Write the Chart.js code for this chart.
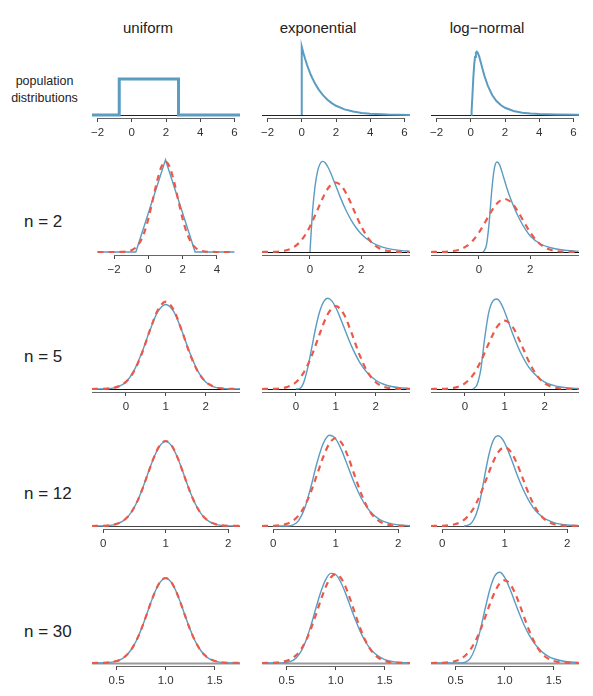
<!DOCTYPE html>
<html>
<head>
<meta charset="utf-8">
<script src="https://cdn.jsdelivr.net/npm/chart.js@4.4.1/dist/chart.umd.min.js"></script>
<style>
  body { margin: 0; background: #fff; }
  #page { position: relative; width: 593px; height: 696px; overflow: hidden;
          font-family: 'Liberation Sans', Arial, Helvetica, sans-serif; color: #222; }
  #page canvas { position: absolute; }
  .title { position: absolute; font-size: 15px; line-height: 15px; transform: translateX(-50%); white-space: nowrap; }
  .pop { position: absolute; left: 0; width: 89px; top: 73px; text-align: center; font-size: 12.5px; line-height: 17px; }
  .nlab { position: absolute; left: 24px; font-size: 17px; line-height: 17px; white-space: nowrap; }
</style>
</head>
<body>
<div id="page">
  <div class="title" style="left:148px; top:20px">uniform</div>
  <div class="title" style="left:318px; top:20px">exponential</div>
  <div class="title" style="left:487px; top:20px">log&#8722;normal</div>
  <div class="pop">population<br>distributions</div>
  <div class="nlab" style="top:213px">n = 2</div>
  <div class="nlab" style="top:348px">n = 5</div>
  <div class="nlab" style="top:485px">n = 12</div>
  <div class="nlab" style="top:623px">n = 30</div>
</div>
<script>
// ---- tick values / labels ----
const popTicks = [-2, 0, 2, 4, 6];
const popTickLabels = ['\u22122', '0', '2', '4', '6'];
const n2UniTicks = [-2, 0, 2, 4];
const n2UniTickLabels = ['\u22122', '0', '2', '4'];
const n2Ticks = [0, 2];
const n2TickLabels = ['0', '2'];
const n5Ticks = [0, 1, 2];
const n5TickLabels = ['0', '1', '2'];
const n12Ticks = [0, 1, 2];
const n12TickLabels = ['0', '1', '2'];
const n30Ticks = [0.5, 1.0, 1.5];
const n30TickLabels = ['0.5', '1.0', '1.5'];

// ---- population distributions ----
const uniPopX = [-2.32, -0.73, -0.73, 2.73, 2.73, 6.32];
const uniPopY = [0, 0, 0.289, 0.289, 0, 0];
const expPopX = [0, 0, 0.1, 0.2, 0.3, 0.4, 0.5, 0.6, 0.8, 1.0, 1.25, 1.5, 1.75, 2.0, 2.5, 3.0, 3.5, 4.0, 5.0, 6.32];
const expPopY = [0, 1, 0.905, 0.819, 0.741, 0.670, 0.607, 0.549, 0.449, 0.368, 0.287, 0.223, 0.174, 0.135, 0.082, 0.050, 0.030, 0.018, 0.0067, 0.0018];
const logPopX = [0, 0.02, 0.05, 0.1, 0.15, 0.2, 0.25, 0.3, 0.35, 0.4, 0.5, 0.6, 0.7, 0.8, 1.0, 1.25, 1.5, 1.75, 2.0, 2.5, 3.0, 3.5, 4.0, 5.0, 6.32];
const logPopY = [0, 0.0025, 0.061, 0.303, 0.564, 0.758, 0.879, 0.940, 0.958, 0.948, 0.879, 0.783, 0.684, 0.592, 0.439, 0.303, 0.212, 0.151, 0.110, 0.061, 0.035, 0.022, 0.0137, 0.0061, 0.0024];

// ---- n = 2 ----
const n2UniBlueX = [-2.97, -0.73, 1, 2.73, 5.03];
const n2UniBlueY = [0, 0, 0.577, 0, 0];
const n2UniRedX = [-2.97, -2, -1.5, -1, -0.75, -0.5, -0.25, 0, 0.25, 0.5, 0.75, 1, 1.25, 1.5, 1.75, 2, 2.25, 2.5, 2.75, 3, 3.5, 4, 5.03];
const n2UniRedY = [0, 0.0001, 0.0011, 0.0103, 0.0264, 0.0595, 0.1183, 0.2076, 0.3215, 0.4394, 0.5300, 0.5642, 0.5300, 0.4394, 0.3215, 0.2076, 0.1183, 0.0595, 0.0264, 0.0103, 0.0011, 0.0001, 0];
const n2RedX = [-1.87, -1.5, -1, -0.75, -0.5, -0.25, 0, 0.25, 0.5, 0.75, 1, 1.25, 1.5, 1.75, 2, 2.25, 2.5, 2.75, 3, 3.5, 3.88];
const n2RedY = [0.0002, 0.0011, 0.0103, 0.0264, 0.0595, 0.1183, 0.2076, 0.3215, 0.4394, 0.5300, 0.5642, 0.5300, 0.4394, 0.3215, 0.2076, 0.1183, 0.0595, 0.0264, 0.0103, 0.0011, 0.0001];
const n2ExpBlueX = [0, 0.1, 0.2, 0.3, 0.4, 0.5, 0.6, 0.7, 0.8, 1.0, 1.2, 1.4, 1.6, 1.8, 2.0, 2.4, 2.8, 3.2, 3.6, 3.88];
const n2ExpBlueY = [0, 0.3275, 0.5363, 0.6586, 0.7189, 0.7358, 0.7229, 0.6905, 0.6461, 0.5413, 0.4355, 0.3405, 0.2609, 0.1967, 0.1465, 0.0790, 0.0414, 0.0213, 0.0108, 0.0066];
const n2LogBlueX = [0.15, 0.2, 0.3, 0.4, 0.5, 0.6, 0.7, 0.8, 0.9, 1.0, 1.1, 1.2, 1.4, 1.6, 1.8, 2.0, 2.4, 2.8, 3.2, 3.6, 3.88];
const n2LogBlueY = [0, 0.011, 0.085, 0.32, 0.66, 0.89, 0.958, 0.93, 0.85, 0.76, 0.67, 0.59, 0.455, 0.34, 0.245, 0.17, 0.085, 0.045, 0.024, 0.013, 0.008];

// ---- n = 5 ----
const n5X = [-0.85, -0.6, -0.4, -0.2, 0, 0.2, 0.4, 0.6, 0.8, 1.0, 1.2, 1.4, 1.6, 1.8, 2.0, 2.2, 2.4, 2.6, 2.86];
const n5RedY = [0.0002, 0.0015, 0.0067, 0.0244, 0.0732, 0.1801, 0.3627, 0.5980, 0.8072, 0.8921, 0.8072, 0.5980, 0.3627, 0.1801, 0.0732, 0.0244, 0.0067, 0.0015, 0.0002];
const n5UniBlueY = [0, 0, 0.0045, 0.021, 0.071, 0.186, 0.372, 0.597, 0.790, 0.864, 0.790, 0.597, 0.372, 0.186, 0.071, 0.021, 0.0045, 0, 0];
const n5ExpBlueX = [0, 0.1, 0.2, 0.3, 0.4, 0.5, 0.6, 0.7, 0.8, 0.9, 1.0, 1.1, 1.2, 1.3, 1.4, 1.6, 1.8, 2.0, 2.2, 2.4, 2.6, 2.86];
const n5ExpBlueY = [0, 0.0079, 0.0766, 0.2353, 0.4511, 0.6680, 0.8402, 0.9441, 0.9768, 0.9491, 0.8773, 0.7791, 0.6693, 0.5590, 0.4561, 0.2860, 0.1687, 0.0946, 0.0509, 0.0265, 0.0135, 0.0053];
const n5LogBlueX = [0.2, 0.3, 0.4, 0.5, 0.6, 0.7, 0.8, 0.9, 1.0, 1.1, 1.2, 1.3, 1.4, 1.6, 1.8, 2.0, 2.2, 2.4, 2.6, 2.86];
const n5LogBlueY = [0, 0.052, 0.261, 0.679, 1.006, 1.149, 1.175, 1.123, 1.006, 0.862, 0.718, 0.588, 0.470, 0.287, 0.170, 0.091, 0.050, 0.026, 0.013, 0.005];

// ---- n = 12 ----
const n12X = [-0.18, 0, 0.1, 0.2, 0.3, 0.4, 0.5, 0.6, 0.7, 0.8, 0.9, 1.0, 1.1, 1.2, 1.3, 1.4, 1.5, 1.6, 1.7, 1.8, 1.9, 2.0, 2.19];
const n12RedY = [0.0003, 0.0034, 0.0107, 0.0297, 0.0731, 0.1593, 0.3084, 0.5291, 0.8052, 1.0870, 1.3015, 1.3819, 1.3015, 1.0870, 0.8052, 0.5291, 0.3084, 0.1593, 0.0731, 0.0297, 0.0107, 0.0034, 0.0003];
const n12UniBlueY = [0, 0.0025, 0.009, 0.027, 0.070, 0.157, 0.309, 0.533, 0.810, 1.087, 1.296, 1.372, 1.296, 1.087, 0.810, 0.533, 0.309, 0.157, 0.070, 0.027, 0.009, 0.0025, 0];
const n12ExpBlueX = [0, 0.2, 0.3, 0.4, 0.5, 0.6, 0.7, 0.8, 0.9, 1.0, 1.1, 1.2, 1.3, 1.4, 1.5, 1.6, 1.7, 1.8, 1.9, 2.0, 2.19];
const n12ExpBlueY = [0, 0.0004, 0.0108, 0.0771, 0.2704, 0.6050, 0.9932, 1.2996, 1.4299, 1.3725, 1.1794, 0.9251, 0.6721, 0.4574, 0.2943, 0.1802, 0.1058, 0.0597, 0.0326, 0.0173, 0.0048];
const n12LogBlueX = [0.35, 0.4, 0.45, 0.5, 0.55, 0.6, 0.65, 0.7, 0.75, 0.8, 0.85, 0.9, 0.95, 1.0, 1.1, 1.2, 1.3, 1.4, 1.5, 1.6, 1.7, 1.8, 1.9, 2.0, 2.19];
const n12LogBlueY = [0, 0.011, 0.035, 0.105, 0.228, 0.421, 0.702, 1.001, 1.264, 1.457, 1.563, 1.586, 1.545, 1.457, 1.194, 0.896, 0.632, 0.421, 0.263, 0.163, 0.097, 0.056, 0.032, 0.018, 0.005];

// ---- n = 30 ----
const n30X = [0.25, 0.4, 0.5, 0.55, 0.6, 0.65, 0.7, 0.75, 0.8, 0.85, 0.9, 0.95, 1.0, 1.05, 1.1, 1.15, 1.2, 1.25, 1.3, 1.35, 1.4, 1.45, 1.5, 1.6, 1.757];
const n30RedY = [0.0005, 0.0099, 0.0514, 0.1048, 0.1982, 0.3479, 0.5664, 0.8557, 1.1992, 1.5593, 1.8807, 2.1047, 2.1851, 2.1047, 1.8807, 1.5593, 1.1992, 0.8557, 0.5664, 0.3479, 0.1982, 0.1048, 0.0514, 0.0099, 0.0004];
const n30UniBlueY = [0, 0.008, 0.048, 0.101, 0.196, 0.347, 0.567, 0.858, 1.201, 1.559, 1.878, 2.099, 2.178, 2.099, 1.878, 1.559, 1.201, 0.858, 0.567, 0.347, 0.196, 0.101, 0.048, 0.008, 0];
const n30ExpBlueX = [0.25, 0.4, 0.45, 0.5, 0.55, 0.6, 0.65, 0.7, 0.75, 0.8, 0.85, 0.9, 0.95, 1.0, 1.05, 1.1, 1.15, 1.2, 1.25, 1.3, 1.35, 1.4, 1.45, 1.5, 1.6, 1.757];
const n30ExpBlueY = [0, 0.0004, 0.0028, 0.0133, 0.0470, 0.1307, 0.2970, 0.5689, 0.9380, 1.3607, 1.7612, 2.0617, 2.2066, 2.1794, 2.0015, 1.7212, 1.3940, 1.0685, 0.7789, 0.5420, 0.3613, 0.2315, 0.1428, 0.0853, 0.0276, 0.0038];
const n30LogBlueX = [0.25, 0.55, 0.6, 0.65, 0.7, 0.75, 0.8, 0.85, 0.9, 0.95, 1.0, 1.05, 1.1, 1.15, 1.2, 1.25, 1.3, 1.35, 1.4, 1.45, 1.5, 1.6, 1.757];
const n30LogBlueY = [0, 0.003, 0.02, 0.12, 0.40, 0.85, 1.42, 1.95, 2.30, 2.396, 2.26, 1.98, 1.64, 1.30, 0.99, 0.735, 0.53, 0.37, 0.255, 0.17, 0.112, 0.047, 0.01];

// ---- styling ----
const BLUE = '#5A9CC2';
const RED = '#EB5A48';
const FONT = "'Liberation Sans', Arial, Helvetica, sans-serif";
const colLeft = [92, 262, 431];
const rowBase = [115, 252, 389, 526, 663];
const PLOT_W = 148, ABOVE = 100, AXIS_H = 28, SIDE = 15;

function blue(x, y, width, smooth) {
    return { x, y, color: BLUE, width: width || 1.4, smooth: smooth !== false };
}
function red(x, y) {
    return { x, y, color: RED, width: 2.2, dash: [6, 5], smooth: true };
}

const panels = [
    { row: 0, col: 0, xMin: -2.32, xMax: 6.32, yMax: 0.803, ticks: popTicks, labels: popTickLabels, axis: [-2, 6], base: '#222',
      series: [blue(uniPopX, uniPopY, 3, false)] },
    { row: 0, col: 1, xMin: -2.32, xMax: 6.32, yMax: 1.464, ticks: popTicks, labels: popTickLabels, axis: [-2, 6], base: '#222',
      series: [blue(expPopX, expPopY, 2, false)] },
    { row: 0, col: 2, xMin: -2.32, xMax: 6.32, yMax: 1.513, ticks: popTicks, labels: popTickLabels, axis: [-2, 6], base: '#222',
      series: [blue(logPopX, logPopY, 2, false)] },

    { row: 1, col: 0, xMin: -3.29, xMax: 5.35, yMax: 0.625, ticks: n2UniTicks, labels: n2UniTickLabels, axis: [-2, 4], base: null,
      series: [red(n2UniRedX, n2UniRedY), blue(n2UniBlueX, n2UniBlueY, 1.4, false)] },
    { row: 1, col: 1, xMin: -1.87, xMax: 3.9, yMax: 0.812, ticks: n2Ticks, labels: n2TickLabels, axis: null, base: '#111',
      series: [red(n2RedX, n2RedY), blue(n2ExpBlueX, n2ExpBlueY)] },
    { row: 1, col: 2, xMin: -1.87, xMax: 3.9, yMax: 1.064, ticks: n2Ticks, labels: n2TickLabels, axis: null, base: '#111',
      series: [red(n2RedX, n2RedY), blue(n2LogBlueX, n2LogBlueY)] },

    { row: 2, col: 0, xMin: -0.85, xMax: 2.86, yMax: 1.022, ticks: n5Ticks, labels: n5TickLabels, axis: null, base: '#111',
      series: [red(n5X, n5RedY), blue(n5X, n5UniBlueY)] },
    { row: 2, col: 1, xMin: -0.85, xMax: 2.86, yMax: 1.077, ticks: n5Ticks, labels: n5TickLabels, axis: null, base: '#111',
      series: [red(n5X, n5RedY), blue(n5ExpBlueX, n5ExpBlueY)] },
    { row: 2, col: 2, xMin: -0.85, xMax: 2.86, yMax: 1.306, ticks: n5Ticks, labels: n5TickLabels, axis: null, base: '#111',
      series: [red(n5X, n5RedY), blue(n5LogBlueX, n5LogBlueY)] },

    { row: 3, col: 0, xMin: -0.18, xMax: 2.19, yMax: 1.626, ticks: n12Ticks, labels: n12TickLabels, axis: [0, 2], base: '#444',
      series: [red(n12X, n12RedY), blue(n12X, n12UniBlueY)] },
    { row: 3, col: 1, xMin: -0.18, xMax: 2.19, yMax: 1.575, ticks: n12Ticks, labels: n12TickLabels, axis: [0, 2], base: '#444',
      series: [red(n12X, n12RedY), blue(n12ExpBlueX, n12ExpBlueY)] },
    { row: 3, col: 2, xMin: -0.18, xMax: 2.19, yMax: 1.756, ticks: n12Ticks, labels: n12TickLabels, axis: [0, 2], base: '#444',
      series: [red(n12X, n12RedY), blue(n12LogBlueX, n12LogBlueY)] },

    { row: 4, col: 0, xMin: 0.25, xMax: 1.757, yMax: 2.571, ticks: n30Ticks, labels: n30TickLabels, axis: [0.5, 1.5], base: '#999',
      series: [red(n30X, n30RedY), blue(n30X, n30UniBlueY)] },
    { row: 4, col: 1, xMin: 0.25, xMax: 1.757, yMax: 2.463, ticks: n30Ticks, labels: n30TickLabels, axis: [0.5, 1.5], base: '#999',
      series: [red(n30X, n30RedY), blue(n30ExpBlueX, n30ExpBlueY)] },
    { row: 4, col: 2, xMin: 0.25, xMax: 1.757, yMax: 2.642, ticks: n30Ticks, labels: n30TickLabels, axis: [0.5, 1.5], base: '#999',
      series: [red(n30X, n30RedY), blue(n30LogBlueX, n30LogBlueY)] }
];

// baseline at density 0 plus the R-style axis line under it
const axisLines = {
    id: 'axisLines',
    beforeDatasetsDraw(chart) {
        const { ctx, chartArea, scales } = chart;
        const p = chart.$panel;
        ctx.save();
        if (p.base) {
            const y0 = Math.round(scales.y.getPixelForValue(0)) + 0.5;
            ctx.strokeStyle = p.base;
            ctx.lineWidth = p.row === 4 ? 2 : 1.2;
            ctx.beginPath();
            ctx.moveTo(chartArea.left, y0);
            ctx.lineTo(chartArea.right, y0);
            ctx.stroke();
        }
        const from = p.axis ? scales.x.getPixelForValue(p.axis[0]) : chartArea.left;
        const to = p.axis ? scales.x.getPixelForValue(p.axis[1]) : chartArea.right;
        const ya = Math.round(chartArea.bottom) + 0.5;
        ctx.strokeStyle = '#666';
        ctx.lineWidth = 1;
        ctx.beginPath();
        ctx.moveTo(from, ya);
        ctx.lineTo(to, ya);
        ctx.stroke();
        ctx.restore();
    }
};

function makePanel(p) {
    const page = document.getElementById('page');
    const canvas = document.createElement('canvas');
    canvas.width = PLOT_W + 2 * SIDE;
    canvas.height = ABOVE + 3 + AXIS_H;
    canvas.style.left = (colLeft[p.col] - SIDE) + 'px';
    canvas.style.top = (rowBase[p.row] - ABOVE) + 'px';
    page.appendChild(canvas);

    const datasets = p.series.map(s => ({
        data: s.x.map((x, i) => ({ x: x, y: s.y[i] })),
        borderColor: s.color,
        borderWidth: s.width,
        borderDash: s.dash || [],
        pointRadius: 0,
        fill: false,
        tension: 0,
        cubicInterpolationMode: s.smooth ? 'monotone' : 'default',
        clip: false
    }));

    const chart = new Chart(canvas, {
        type: 'line',
        data: { datasets },
        options: {
            responsive: false,
            animation: false,
            events: [],
            layout: { padding: { left: SIDE, right: SIDE, top: 0, bottom: 0 } },
            plugins: { legend: { display: false }, tooltip: { enabled: false } },
            scales: {
                x: {
                    type: 'linear',
                    min: p.xMin,
                    max: p.xMax,
                    afterBuildTicks: s => { s.ticks = p.ticks.map(v => ({ value: v })); },
                    afterFit: s => { s.height = AXIS_H; },
                    border: { display: false },
                    grid: { drawOnChartArea: false, drawTicks: true, tickLength: 4, color: '#444', lineWidth: 1 },
                    ticks: {
                        autoSkip: false, maxRotation: 0, padding: 4, color: '#333',
                        font: { family: FONT, size: 11.5 },
                        callback: (v, i) => p.labels[i]
                    }
                },
                y: { display: false, min: -0.03 * p.yMax, max: p.yMax }
            }
        },
        plugins: [{ id: 'panelRef', beforeInit(c) { c.$panel = p; } }, axisLines]
    });
    return chart;
}

panels.forEach(makePanel);
</script>
</body>
</html>
